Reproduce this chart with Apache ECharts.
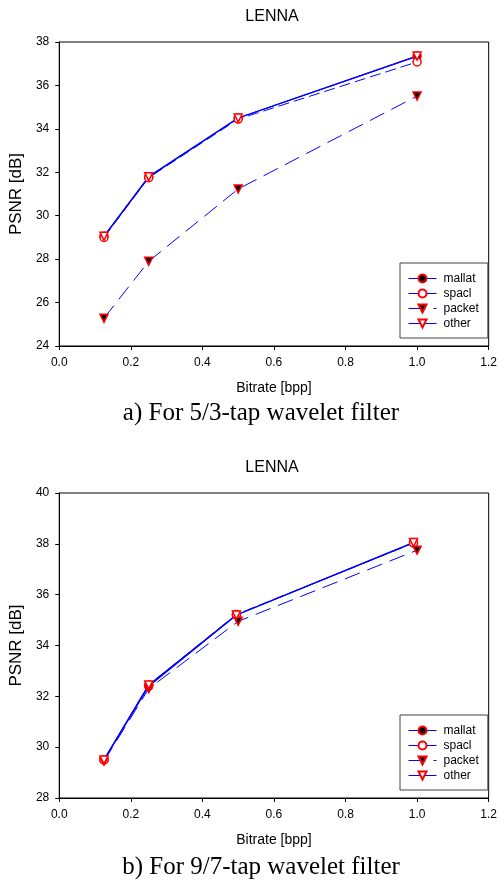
<!DOCTYPE html>
<html><head><meta charset="utf-8">
<script src="https://cdn.jsdelivr.net/npm/echarts@6/dist/echarts.min.js"></script>
<style>html,body{margin:0;padding:0;background:#fff}#c{width:500px;height:882px}</style>
</head><body><div id="c"></div>
<script>
// ---- data ----
const seriesNames = ['mallat', 'spacl', 'packet', 'other'];
const xTicks = ['0.0','0.2','0.4','0.6','0.8','1.0','1.2'];
// chart a) 5/3-tap
const xA = [0.125, 0.25, 0.5, 1.0];
const mallatA = [29.05, 31.78, 34.5, 37.35];
const spaclA  = [29.0, 31.75, 34.45, 37.08];
const packetA = [25.28, 27.9, 31.23, 35.51];
const otherA  = [29.05, 31.8, 34.5, 37.35];
// chart b) 9/7-tap
const xB = [0.125, 0.25, 0.495, 0.99];
const xBpacket = [0.125, 0.25, 0.5, 1.0];
const mallatB = [29.5, 32.4, 35.2, 38.05];
const spaclB  = [29.5, 32.45, 35.22, 38.03];
const packetB = [29.45, 32.3, 34.95, 37.75];
const otherB  = [29.5, 32.45, 35.2, 38.05];

const pairs = (xs, ys) => xs.map((x, i) => [x, ys[i]]);
const BLUE = '#0000ff', RED = '#ff0000';
const FONT = 'Liberation Sans, Arial, sans-serif';
const SERIF = 'Liberation Serif, Times New Roman, serif';

const styles = {
  mallat: {symbol: 'circle', rot: 0, fill: '#000', line: {type: 'solid', width: 1.3}},
  spacl:  {symbol: 'circle', rot: 0, fill: '#fff', line: {type: [11, 5], width: 1}},
  packet: {symbol: 'triangle', rot: 180, fill: '#000', line: {type: [16, 8], width: 1}},
  other:  {symbol: 'triangle', rot: 180, fill: '#fff', line: {type: 'solid', width: 1.3}}
};
function mk(name, data, gi) {
  const s = styles[name];
  return {
    name, type: 'line', data, xAxisIndex: gi, yAxisIndex: gi,
    symbol: s.symbol, symbolRotate: s.rot, symbolSize: 8, showAllSymbol: true,
    lineStyle: {color: BLUE, width: s.line.width, type: s.line.type},
    itemStyle: {color: s.fill, borderColor: RED, borderWidth: 1.5},
    emphasis: {disabled: true}, animation: false
  };
}
function xAxis(gi) {
  return {
    type: 'value', gridIndex: gi, min: 0, max: 1.2, interval: 0.2,
    name: 'Bitrate [bpp]', nameLocation: 'middle', nameGap: 35,
    nameTextStyle: {fontFamily: FONT, fontSize: 14, color: '#000'},
    axisLine: {onZero: false, lineStyle: {color: '#000', width: 1}},
    axisTick: {show: true, length: 4, lineStyle: {color: '#000'}},
    axisLabel: {fontFamily: FONT, fontSize: 12, color: '#000', margin: 11,
      formatter: v => xTicks[Math.round(v / 0.2)] || v.toFixed(1)},
    splitLine: {show: false}
  };
}
function yAxis(gi, min, max) {
  return {
    type: 'value', gridIndex: gi, min, max, interval: 2,
    name: 'PSNR [dB]', nameLocation: 'middle', nameGap: 32, nameRotate: 90,
    nameTextStyle: {fontFamily: FONT, fontSize: 17, color: '#000'},
    axisLine: {show: true, onZero: false, lineStyle: {color: '#000', width: 1}},
    axisTick: {show: true, length: 4, lineStyle: {color: '#000'}},
    axisLabel: {fontFamily: FONT, fontSize: 12, color: '#000', margin: 10},
    splitLine: {show: false}
  };
}
function legendData() {
  return seriesNames.map(n => ({
    name: n,
    lineStyle: {width: 1, type: n === 'packet' ? [17, 8] : 'solid', color: BLUE}
  }));
}
function legend(top) {
  return {
    orient: 'vertical', left: 400, top, data: legendData(),
    itemWidth: 28, itemHeight: 10, itemGap: 0,
    padding: [8, 9, 7, 8], borderColor: '#444', borderWidth: 1,
    backgroundColor: '#fff', selectedMode: false,
    textStyle: {fontFamily: FONT, fontSize: 12, color: '#000', lineHeight: 15, padding: [0, 0, 0, 2]}
  };
}

const chart = echarts.init(document.getElementById('c'), null, {renderer: 'canvas'});
chart.setOption({
  animation: false,
  title: [
    {text: 'LENNA', left: 272, top: 9, padding: 0, textAlign: 'center', textStyle: {fontFamily: FONT, fontSize: 16, fontWeight: 'normal', color: '#000'}},
    {text: 'LENNA', left: 272, top: 460, padding: 0, textAlign: 'center', textStyle: {fontFamily: FONT, fontSize: 16, fontWeight: 'normal', color: '#000'}},
    {text: 'a) For 5/3-tap wavelet filter', left: 261, top: 401, padding: 0, textAlign: 'center', textStyle: {fontFamily: SERIF, fontSize: 25, fontWeight: 'normal', color: '#000'}},
    {text: 'b) For 9/7-tap wavelet filter', left: 261, top: 855, padding: 0, textAlign: 'center', textStyle: {fontFamily: SERIF, fontSize: 25, fontWeight: 'normal', color: '#000'}}
  ],
  grid: [
    {left: 58, right: 8, top: 42, height: 304, show: true, borderColor: '#000', borderWidth: 1, backgroundColor: 'transparent'},
    {left: 58, right: 8, top: 493, height: 305, show: true, borderColor: '#000', borderWidth: 1, backgroundColor: 'transparent'}
  ],
  xAxis: [xAxis(0), xAxis(1)],
  yAxis: [yAxis(0, 24, 38), yAxis(1, 28, 40)],
  legend: [legend(263), legend(715)],
  series: [
    mk('mallat', pairs(xA, mallatA), 0),
    mk('spacl', pairs(xA, spaclA), 0),
    mk('packet', pairs(xA, packetA), 0),
    mk('other', pairs(xA, otherA), 0),
    mk('mallat', pairs(xB, mallatB), 1),
    mk('spacl', pairs(xB, spaclB), 1),
    mk('packet', pairs(xBpacket, packetB), 1),
    mk('other', pairs(xB, otherB), 1)
  ]
});
</script></body></html>
